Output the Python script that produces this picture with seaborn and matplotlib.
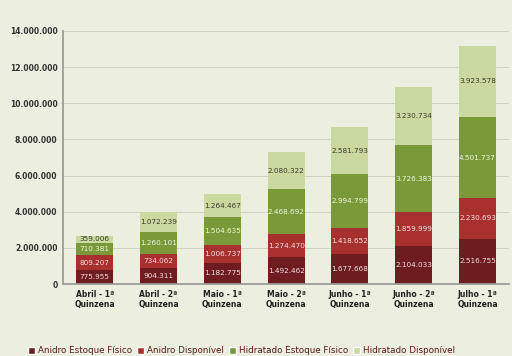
import matplotlib
matplotlib.use("Agg")
import matplotlib.pyplot as plt
import seaborn as sns
import numpy as np
import pandas as pd
from matplotlib.patches import Patch

categories = ["Abril - 1ª\nQuinzena", "Abril - 2ª\nQuinzena", "Maio - 1ª\nQuinzena",
              "Maio - 2ª\nQuinzena", "Junho - 1ª\nQuinzena", "Junho - 2ª\nQuinzena",
              "Julho - 1ª\nQuinzena"]
anidro_fisico = [775955, 904311, 1182775, 1492462, 1677668, 2104033, 2516755]
anidro_disp = [809207, 734062, 1006737, 1274470, 1418652, 1859999, 2230693]
hidratado_fisico = [710381, 1260101, 1504635, 2468692, 2994799, 3726383, 4501737]
hidratado_disp = [359006, 1072239, 1264467, 2080322, 2581793, 3230734, 3923578]
series_names = ["Anidro Estoque Físico", "Anidro Disponível",
                "Hidratado Estoque Físico", "Hidratado Disponível"]
colors = ["#6e1c20", "#a8302f", "#7a9a3a", "#c9d9a0"]
text_colors = ["#f0e0e0", "#f5e0e0", "#eef5dd", "#3a3a2a"]

bg = "#eceedf"
sns.set_theme(style="white")
plt.rcParams['font.family'] = ['DejaVu Sans']

fig = plt.figure(figsize=(5.12, 3.56), dpi=100, facecolor=bg)
ax = fig.add_axes([0.123, 0.202, 0.872, 0.711])
ax.set_facecolor(bg)

series = [anidro_fisico, anidro_disp, hidratado_fisico, hidratado_disp]
cum = np.cumsum(np.array(series), axis=0)

for i in range(3, -1, -1):
    df = pd.DataFrame({"cat": categories, "val": cum[i]})
    sns.barplot(data=df, x="cat", y="val", color=colors[i], width=0.58,
                saturation=1, ax=ax, zorder=2, edgecolor="none")

for i in range(4):
    for j in range(len(categories)):
        base = cum[i - 1][j] if i > 0 else 0
        mid = base + series[i][j] / 2
        lbl = f"{series[i][j]:,}".replace(",", ".")
        ax.text(j, mid, lbl, ha="center", va="center", fontsize=5.2,
                color=text_colors[i], zorder=5)

ax.set_ylim(0, 14000000)
ax.set_xlim(-0.5, 6.5)
yt = np.arange(0, 14000001, 2000000)
ax.set_yticks(yt)
ax.set_yticklabels([f"{int(v):,}".replace(",", ".") for v in yt], fontsize=5.5,
                   fontweight="bold", color="#333333")
ax.set_xticks(range(len(categories)))
ax.set_xticklabels(categories, fontsize=5.5, fontweight="bold", color="#222222")
ax.tick_params(axis="both", length=0, pad=4)
ax.yaxis.grid(True, color="#cfd2c4", linewidth=0.7, zorder=0)
ax.set_axisbelow(True)
for s in ["top", "right"]:
    ax.spines[s].set_visible(False)
ax.spines["left"].set_color("#999999")
ax.spines["bottom"].set_color("#999999")
ax.set_xlabel("")
ax.set_ylabel("")

handles = [Patch(facecolor=c, label=n) for c, n in zip(colors, series_names)]
fig.legend(handles=handles, loc="lower left", bbox_to_anchor=(0.04, -0.02), ncol=4,
           frameon=False, fontsize=6.3, handlelength=0.8, handleheight=0.8,
           handletextpad=0.3, columnspacing=0.6, labelcolor="#5a1a1a")

fig.savefig("out.png", dpi=100, facecolor=bg)
